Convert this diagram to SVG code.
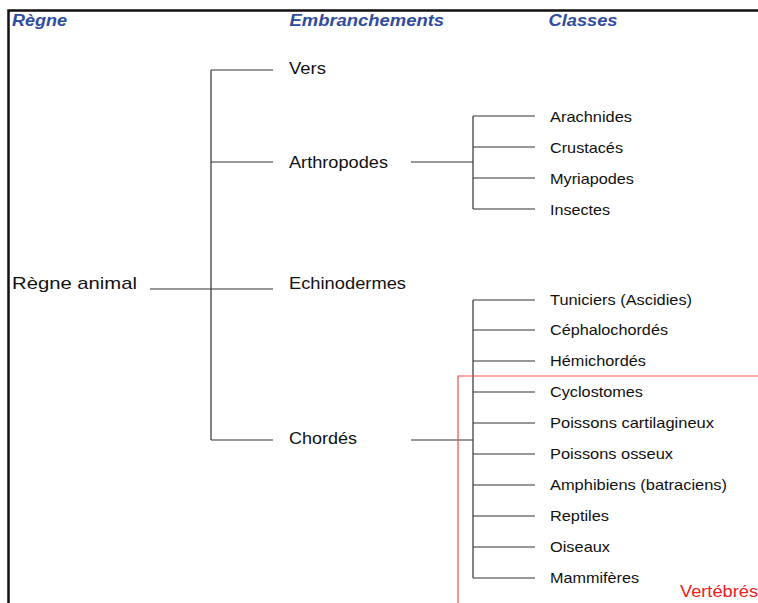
<svg xmlns="http://www.w3.org/2000/svg" width="758" height="603" viewBox="0 0 758 603">
<defs>
<style>
.hd{font-family:"Liberation Sans",Arial,sans-serif;font-weight:bold;font-style:italic;font-size:16px;fill:#2f4c9e}
.em{font-family:"Liberation Sans",Arial,sans-serif;font-size:17px;fill:#111}
.cl{font-family:"Liberation Sans",Arial,sans-serif;font-size:15px;fill:#111}
.ln{stroke:#333;stroke-width:1.2;fill:none}
.frame{stroke:#111;stroke-width:2.5;fill:none}
.red{stroke:#f05050;stroke-width:1.2;fill:none}
</style>
</defs>
<rect width="758" height="603" fill="#fff"/>
<path class="frame" d="M8.5,603 V10.5 H758"/>
<g id="headers">
<text class="hd" x="12" y="26" textLength="55" lengthAdjust="spacingAndGlyphs">Règne</text>
<text class="hd" x="289.5" y="26" textLength="154.5" lengthAdjust="spacingAndGlyphs">Embranchements</text>
<text class="hd" x="548.5" y="26" textLength="69" lengthAdjust="spacingAndGlyphs">Classes</text>
</g>
<g id="connectors">
<path class="ln" d="M150,289 H273 M211,70 V440 M211,70 H273 M211,162 H273 M211,440 H273"/>
<path class="ln" d="M411,162 H473 M473,116 V209 M473,116 H535 M473,147 H535 M473,178 H535 M473,209 H535"/>
<path class="ln" d="M411,440 H473 M473,300 V578 M473,300 H535 M473,330 H535 M473,361 H535 M473,392 H535 M473,423 H535 M473,454 H535 M473,485 H535 M473,516 H535 M473,547 H535 M473,578 H535"/>
</g>
<g id="regne"><text class="em" x="12" y="289" font-size="18" textLength="125" lengthAdjust="spacingAndGlyphs">Règne animal</text></g>
<g id="vers"><text class="em" x="289" y="74" textLength="37" lengthAdjust="spacingAndGlyphs">Vers</text></g>
<g id="arthropodes"><text class="em" x="289" y="168" textLength="99" lengthAdjust="spacingAndGlyphs">Arthropodes</text></g>
<g id="echinodermes"><text class="em" x="289" y="289" textLength="117" lengthAdjust="spacingAndGlyphs">Echinodermes</text></g>
<g id="chordes"><text class="em" x="289" y="444" textLength="68" lengthAdjust="spacingAndGlyphs">Chordés</text></g>
<g id="arachnides"><text class="cl" x="550" y="122" textLength="82" lengthAdjust="spacingAndGlyphs">Arachnides</text></g>
<g id="crustaces"><text class="cl" x="550" y="153" textLength="73" lengthAdjust="spacingAndGlyphs">Crustacés</text></g>
<g id="myriapodes"><text class="cl" x="550" y="184" textLength="84" lengthAdjust="spacingAndGlyphs">Myriapodes</text></g>
<g id="insectes"><text class="cl" x="550" y="215" textLength="60" lengthAdjust="spacingAndGlyphs">Insectes</text></g>
<g id="tuniciers"><text class="cl" x="550" y="305" textLength="142" lengthAdjust="spacingAndGlyphs">Tuniciers (Ascidies)</text></g>
<g id="cephalochordes"><text class="cl" x="550" y="335" textLength="118" lengthAdjust="spacingAndGlyphs">Céphalochordés</text></g>
<g id="hemichordes"><text class="cl" x="550" y="366" textLength="96" lengthAdjust="spacingAndGlyphs">Hémichordés</text></g>
<g id="cyclostomes"><text class="cl" x="550" y="397" textLength="93" lengthAdjust="spacingAndGlyphs">Cyclostomes</text></g>
<g id="cartilagineux"><text class="cl" x="550" y="428" textLength="164" lengthAdjust="spacingAndGlyphs">Poissons cartilagineux</text></g>
<g id="osseux"><text class="cl" x="550" y="459" textLength="123" lengthAdjust="spacingAndGlyphs">Poissons osseux</text></g>
<g id="amphibiens"><text class="cl" x="550" y="490" textLength="177" lengthAdjust="spacingAndGlyphs">Amphibiens (batraciens)</text></g>
<g id="reptiles"><text class="cl" x="550" y="521" textLength="59" lengthAdjust="spacingAndGlyphs">Reptiles</text></g>
<g id="oiseaux"><text class="cl" x="550" y="552" textLength="60" lengthAdjust="spacingAndGlyphs">Oiseaux</text></g>
<g id="mammiferes"><text class="cl" x="550" y="583" textLength="89" lengthAdjust="spacingAndGlyphs">Mammifères</text></g>
<g id="vertebres">
<path class="red" d="M458,603 V376 H758"/>
<text x="680" y="597" font-family="'Liberation Sans',Arial,sans-serif" font-size="16" fill="#ee2020" textLength="78" lengthAdjust="spacingAndGlyphs">Vertébrés</text>
</g>
</svg>
